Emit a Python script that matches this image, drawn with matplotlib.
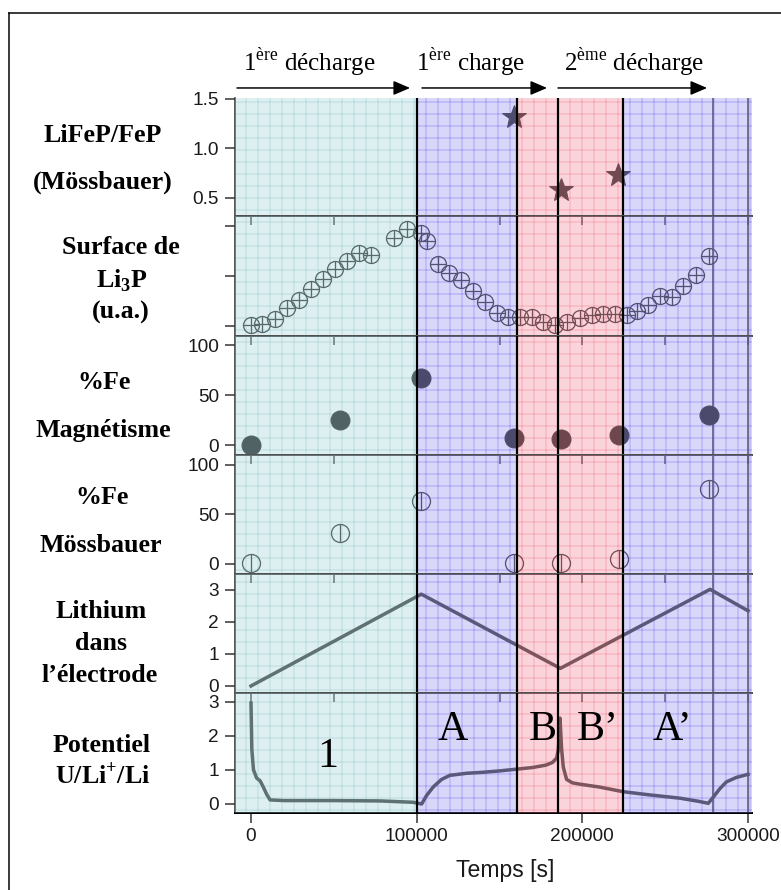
import matplotlib.pyplot as plt
from matplotlib.lines import Line2D
from matplotlib.transforms import blended_transform_factory

plt.rcParams['mathtext.fontset'] = 'custom'
plt.rcParams['mathtext.rm'] = 'Liberation Serif'
plt.rcParams['mathtext.bf'] = 'Liberation Serif:bold'
plt.rcParams['hatch.linewidth'] = 1.0

W, H, DPI = 781, 890, 72     # at 72 dpi one point == one pixel

# ---- values ----
ratio_t = [159000, 187300, 221700]
ratio_val = [1.32, 0.58, 0.73]

li3p_t = [0, 6600, 14500, 21700, 29000, 36200, 43500, 50700, 58000, 65200,
          72400, 86300, 94200, 102600, 106200, 112900, 119500, 126800, 134000,
          141200, 148500, 155100, 162400, 169600, 176300, 183500, 190700,
          198600, 205800, 212500, 219700, 227000, 233000, 239600, 246900,
          254100, 260800, 268600, 276500]
li3p_val = [1.1, 1.2, 1.7, 2.8, 3.6, 4.7, 5.7, 6.7, 7.5, 8.3,
            8.1, 9.8, 10.7, 10.3, 9.5, 7.2, 6.3, 5.6, 4.5,
            3.4, 2.3, 1.9, 1.9, 1.9, 1.4, 1.1, 1.4,
            1.8, 2.1, 2.2, 2.2, 2.1, 2.5, 3.1, 4.0,
            3.9, 5.0, 6.1, 8.0]

fe_t = [0, 54000, 102800, 159000, 187000, 221900, 276500]
fe_magn = [0, 25, 67, 7, 6, 10, 30]
fe_moss = [1, 31, 64, 1, 1, 5, 76]

li_t = [0, 102800, 186700, 277100, 300000]
li_val = [0, 2.87, 0.55, 3.02, 2.35]

pot_t = [0, 500, 1500, 3400, 5500, 7400, 9500, 11500, 20000, 50000, 78000,
         98000, 103000, 106000, 110000, 115000, 120000, 130000, 140000,
         150000, 160000, 170000, 178000, 182000, 184500, 185500, 186500,
         187500, 188500, 190500, 194000, 198600, 210000, 224700, 240000,
         259000, 270000, 276000, 279000, 283000, 287000, 293000, 300000]
pot_u = [2.96, 1.6, 1.0, 0.76, 0.68, 0.5, 0.28, 0.12, 0.1, 0.1, 0.09,
         0.05, 0.0, 0.25, 0.5, 0.72, 0.84, 0.9, 0.93,
         0.97, 1.02, 1.07, 1.14, 1.22, 1.35, 1.6, 2.52,
         1.6, 1.08, 0.72, 0.62, 0.58, 0.5, 0.36, 0.27,
         0.17, 0.08, 0.02, 0.2, 0.45, 0.65, 0.78, 0.87]

# coloured zones and the black phase boundaries
zone_edges = [-9660, 100000, 160800, 224300, 302400]
zone_kind = ['cyan', 'lav', 'pink', 'lav']
phase_bounds = [100000, 160800, 185500, 224300]
extra_lines = [279000, 300000]

phase_labels = ['1', 'A', 'B', 'B\u2019', 'A\u2019']
phase_t = [46500, 121900, 175800, 209000, 254300]
phase_y = [1.08, 1.88, 1.88, 1.88, 1.88]

step_labels = ['1$^{\\mathrm{ère}}$ décharge', '1$^{\\mathrm{ère}}$ charge',
               '2$^{\\mathrm{ème}}$ décharge']
step_text_t = [35000, 132200, 231200]
step_start = [-8450, 103200, 185300]
step_end = [96000, 178700, 275300]

tint = {'cyan': '#91cdd0', 'lav': '#847dee', 'pink': '#f5738a'}
gridc = {'cyan': '#cee7e8', 'lav': '#bab6f8', 'pink': '#f6c2cd'}

ink = '#404040'
SERIF = 'Liberation Serif'
SANS = 'Liberation Sans'

fig = plt.figure(figsize=(W / DPI, H / DPI), dpi=DPI)

# panel edges in pixels, top to bottom
panel_px = [98, 216, 336, 455, 574, 693, 813]
axes = []
for i in range(6):
    top, bot = panel_px[i], panel_px[i + 1]
    ax = fig.add_axes([235 / W, 1 - bot / H, 517 / W, (bot - top) / H])
    ax.set_xlim(zone_edges[0], zone_edges[-1])
    axes.append(ax)
ax1, ax2, ax3, ax4, ax5, ax6 = axes

ax1.set_ylim(0.318, 1.51)
ax2.set_ylim(0, 12)
ax3.set_ylim(-10, 109)
ax4.set_ylim(-10.1, 110)
ax5.set_ylim(-0.22, 3.5)
ax6.set_ylim(-0.264, 3.255)

ax1.set_yticks([0.5, 1.0, 1.5], ['0.5', '1.0', '1.5'])
ax2.set_yticks([1, 6, 11], [])
ax3.set_yticks([0, 50, 100])
ax4.set_yticks([0, 50, 100])
ax5.set_yticks([0, 1, 2, 3])
ax6.set_yticks([0, 1, 2, 3])

# data
ax1.plot(ratio_t, ratio_val, '*', ms=25, color='#383838', zorder=3)

ax2.plot(li3p_t, li3p_val, 'o', ms=16, mfc='none', mec=ink, mew=1.3, zorder=3)
ax2.plot(li3p_t, li3p_val, '+', ms=16, color=ink, mew=1.3, zorder=3)

ax3.plot(fe_t, fe_magn, 'o', ms=19, color='#353535', zorder=3)

ax4.plot(fe_t, fe_moss, 'o', ms=18, mfc='none', mec=ink, mew=1.3, zorder=3)
ax4.plot(fe_t, fe_moss, '|', ms=18, color=ink, mew=1.3, zorder=3)

ax5.plot(li_t, li_val, '-', lw=3.5, color='#4a4a4a', zorder=3)
ax6.plot(pot_t, pot_u, '-', lw=3.5, color='#4a4a4a', zorder=3,
         solid_joinstyle='round')

for i, ax in enumerate(axes):
    for k in range(len(zone_kind)):
        z = zone_kind[k]
        # gridded background underneath, tint on top of the data
        ax.axvspan(zone_edges[k], zone_edges[k + 1], facecolor='white',
                   edgecolor=gridc[z], hatch='+', lw=0, zorder=0)
        ax.axvspan(zone_edges[k], zone_edges[k + 1], color=tint[z],
                   alpha=0.3, lw=0, zorder=5)
    for x in extra_lines:
        ax.axvline(x, color='#4a4a4a', lw=1.6, zorder=2)
    for x in phase_bounds:
        ax.axvline(x, color='black', lw=2.2, zorder=6)

    ax.spines['right'].set_visible(False)
    ax.spines['left'].set_color('#303030')
    ax.spines['left'].set_linewidth(1.6)
    if i == 0:
        ax.spines['top'].set_visible(False)
    else:
        ax.spines['top'].set_color('#505050')
        ax.spines['top'].set_linewidth(2)
    if i < 5:
        ax.spines['bottom'].set_visible(False)
    else:
        ax.spines['bottom'].set_color('black')
        ax.spines['bottom'].set_linewidth(2)

    ax.tick_params(axis='y', direction='out', length=10, width=1.5,
                   color='#303030', labelsize=19, pad=6, labelcolor='#1a1a1a')
    for lab in ax.get_yticklabels():
        lab.set_family(SANS)

    ax.xaxis.remove_overlapping_locs = False
    ax.set_xticks([])
    if i > 0:
        ax.set_xticks(range(0, 300001, 50000), minor=True)
        ax.tick_params(axis='x', which='minor', top=True, bottom=False,
                       direction='in', length=9, width=1.5, color='#505050')

ax6.set_xticks([0, 100000, 200000, 300000], ['0', '100000', '200000', '300000'])
ax6.tick_params(axis='x', which='major', bottom=True, top=False,
                direction='out', length=10, width=1.5, color='#303030',
                labelsize=19, pad=5, labelcolor='#1a1a1a')
for lab in ax6.get_xticklabels():
    lab.set_family(SANS)

# phase letters
for lab, t, y in zip(phase_labels, phase_t, phase_y):
    ax6.text(t, y, lab, ha='center', va='baseline', fontsize=42,
             family=SERIF, color='black', zorder=10)

# steps above the plot
tr = blended_transform_factory(ax1.transData, ax1.transAxes)
for lab, tx, a, b in zip(step_labels, step_text_t, step_start, step_end):
    ax1.annotate('', xy=(b, 1.085), xytext=(a, 1.085),
                 xycoords=tr, textcoords=tr, annotation_clip=False,
                 arrowprops=dict(arrowstyle='-|>,head_length=0.7,head_width=0.3',
                                 mutation_scale=20, lw=1.5, color='black',
                                 shrinkA=0, shrinkB=0))
    ax1.text(tx, 1.229, lab, transform=tr, ha='center', va='baseline',
             fontsize=25, family=SERIF, color='black')

# row titles on the left
row_titles = [('LiFeP/FeP', 103, 135), ('(Mössbauer)', 103, 182),
              ('Surface de', 121, 248), ('Li$_{\\mathbf{3}}$P', 122, 281),
              ('(u.a.)', 121, 312),
              ('%Fe', 104, 383), ('Magnétisme', 103, 430),
              ('%Fe', 102, 498), ('Mössbauer', 101, 545),
              ('Lithium', 101, 612), ('dans', 101, 643),
              ('l\u2019électrode', 100, 675),
              ('Potentiel', 102, 745), ('U/Li$^{\\mathbf{+}}$/Li', 103, 776)]
for txt, px, py in row_titles:
    fig.text(px / W, 1 - py / H, txt, ha='center', va='center',
             fontsize=26, fontweight='bold', family=SERIF)

fig.text(505 / W, 1 - 877 / H, 'Temps [s]', ha='center', va='baseline',
         fontsize=23, family=SANS, color='#1a1a1a')

# outer frame (left and top edges only are inside the picture)
fig.add_artist(Line2D([9 / W, 9 / W], [1 - 13 / H, 0], color='black', lw=1.5))
fig.add_artist(Line2D([9 / W, 1], [1 - 13 / H, 1 - 13 / H], color='black', lw=1.5))

fig.savefig('out.png', dpi=DPI)
